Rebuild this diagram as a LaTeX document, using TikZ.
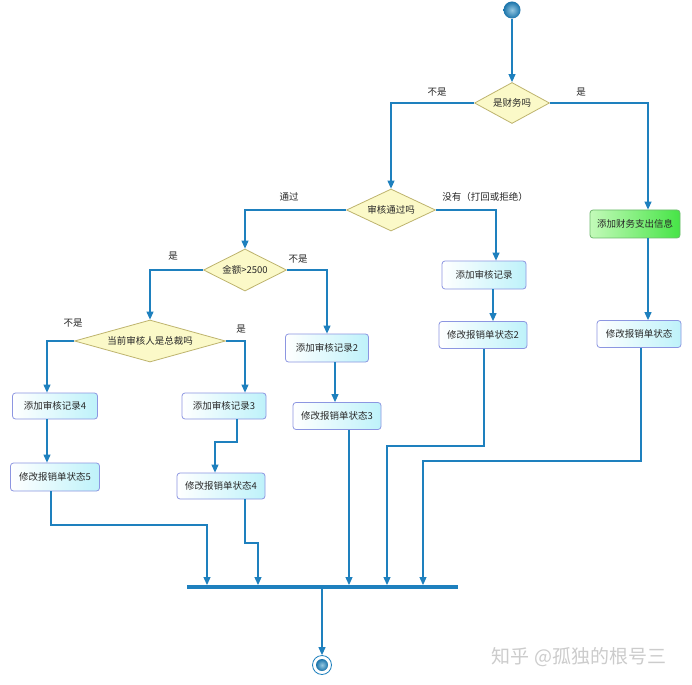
\documentclass[tikz,border=0pt]{standalone}
\usepackage{fontspec}
\setmainfont{Noto Sans CJK SC}
\usetikzlibrary{shapes.geometric,arrows.meta}
\definecolor{lineblue}{RGB}{30,128,190}
\definecolor{ballin}{RGB}{150,200,225}
\definecolor{ballout}{RGB}{25,115,170}
\definecolor{boxborder}{RGB}{140,150,225}
\definecolor{boxcyan}{RGB}{190,242,250}
\definecolor{dfill}{RGB}{251,249,200}
\definecolor{dborder}{RGB}{190,180,110}
\definecolor{gleft}{RGB}{195,250,185}
\definecolor{gright}{RGB}{70,228,70}
\definecolor{gborder}{RGB}{110,185,110}
\definecolor{txt}{RGB}{40,40,40}
\begin{document}
\begin{tikzpicture}[x=1pt,y=-1pt,
  every node/.style={font=\fontsize{9.5}{11}\selectfont, text=txt},
  flow/.style={draw=lineblue, line width=1.1pt, -{Triangle[width=7pt,length=8pt]}},
  actbox/.style={rectangle, rounded corners=3pt, draw=boxborder, line width=0.8pt,
     left color=white, right color=boxcyan, inner sep=0pt},
  greenbox/.style={rectangle, rounded corners=3pt, draw=gborder, line width=0.8pt,
     left color=gleft, right color=gright, inner sep=0pt},
  decision/.style={diamond, aspect=2, draw=dborder, fill=dfill, line width=0.8pt, inner sep=0pt},
  lbl/.style={inner sep=0pt},
  ballnode/.style={circle, inner sep=0pt, inner color=ballin, outer color=ballout},
  forkbar/.style={rectangle, fill=lineblue, inner sep=0pt, minimum width=271pt, minimum height=3.5pt},
]
\useasboundingbox (0,0) rectangle (692,684);
\fill[white] (0,0) rectangle (692,684);

% start / end
\node[ballnode, minimum size=17pt] (start) at (512,10) {};
\node[circle, draw=lineblue, line width=0.8pt, fill=white, minimum size=19pt, inner sep=0pt] (fin) at (322,665) {};
\node[ballnode, minimum size=12pt] (finin) at (322,665) {};

% decisions
\node[decision, minimum width=75pt, minimum height=41pt] (d1) at (512,103) {是财务吗};
\node[decision, minimum width=89pt, minimum height=42pt] (d2) at (391,210) {审核通过吗};
\node[decision, minimum width=83pt, minimum height=42pt] (d3) at (245,270) {金额>2500};
\node[decision, aspect=3.6, minimum width=151pt, minimum height=42pt] (d4) at (150,341) {当前审核人是总裁吗};

% activities
\node[greenbox, minimum width=90pt, minimum height=28pt] (green) at (635,224) {添加财务支出信息};
\node[actbox, minimum width=84pt, minimum height=28pt] (r1) at (484,275) {添加审核记录};
\node[actbox, minimum width=88pt, minimum height=27pt] (m2) at (483,335) {修改报销单状态2};
\node[actbox, minimum width=84pt, minimum height=27pt] (mR) at (639,334) {修改报销单状态};
\node[actbox, minimum width=83pt, minimum height=28pt] (r2) at (327,348) {添加审核记录2};
\node[actbox, minimum width=88pt, minimum height=27pt] (m3) at (337,416) {修改报销单状态3};
\node[actbox, minimum width=85pt, minimum height=26pt] (r4) at (55,406) {添加审核记录4};
\node[actbox, minimum width=89pt, minimum height=28pt] (m5) at (55,477) {修改报销单状态5};
\node[actbox, minimum width=84pt, minimum height=26pt] (r3) at (224,406) {添加审核记录3};
\node[actbox, minimum width=88pt, minimum height=26pt] (m4) at (221,486) {修改报销单状态4};

% fork bar
\node[forkbar] (bar) at (322.5,587) {};

% labels
\node[lbl] (l1) at (437,92) {不是};
\node[lbl] (l2) at (581,92) {是};
\node[lbl] (l3) at (289,197) {通过};
\node[lbl] (l4) at (485,197) {没有（打回或拒绝）};
\node[lbl] (l5) at (173,256) {是};
\node[lbl] (l6) at (298,259) {不是};
\node[lbl] (l7) at (73,323) {不是};
\node[lbl] (l8) at (241,329) {是};

% watermark
\node[inner sep=0pt, text=black!20, font=\fontsize{19}{22}\selectfont] (wm) at (579,657) {知乎 @孤独的根号三};

% column helper coordinates
\coordinate (cA) at (648,0);
\coordinate (cB) at (496,0);
\coordinate (cC) at (493,0);
\coordinate (cD) at (47,0);
\coordinate (cE) at (245,0);
\coordinate (cF) at (335,0);
\coordinate (j1) at (237,442);
\coordinate (j2) at (215,0);
\coordinate (k1) at (51,525);
\coordinate (k2) at (207,0);
\coordinate (j3) at (245,543);
\coordinate (j4) at (258,0);
\coordinate (j5) at (484,446);
\coordinate (j6) at (387,0);
\coordinate (j7) at (641,461);
\coordinate (j8) at (423,0);
\coordinate (j9) at (349,0);

% connectors
\draw[flow] (start.south) -- (d1.north);
\draw[flow] (d1.west) -| (d2.north);
\draw[flow] (d1.east) -| (green.north -| cA);
\draw[flow] (green.south -| cA) -- (mR.north -| cA);
\draw[flow] (d2.west) -| (d3.north);
\draw[flow] (d2.east) -| (r1.north -| cB);
\draw[flow] (r1.south -| cC) -- (m2.north -| cC);
\draw[flow] (d3.west) -| (d4.north);
\draw[flow] (d3.east) -| (r2.north);
\draw[flow] (r2.south -| cF) -- (m3.north -| cF);
\draw[flow] (d4.west) -| (r4.north -| cD);
\draw[flow] (d4.east) -| (r3.north -| cE);
\draw[flow] (r4.south -| cD) -- (m5.north -| cD);
\draw[flow] (r3.south -| j1) -- (j1) -| (m4.north -| j2);
\draw[flow] (m5.south -| k1) -- (k1) -| (bar.north -| k2);
\draw[flow] (m4.south -| j3) -- (j3) -| (bar.north -| j4);
\draw[flow] (m3.south -| j9) -- (bar.north -| j9);
\draw[flow] (m2.south -| j5) -- (j5) -| (bar.north -| j6);
\draw[flow] (mR.south -| j7) -- (j7) -| (bar.north -| j8);
\draw[flow] (bar.south -| fin) -- (fin.north);
\end{tikzpicture}
\end{document}
